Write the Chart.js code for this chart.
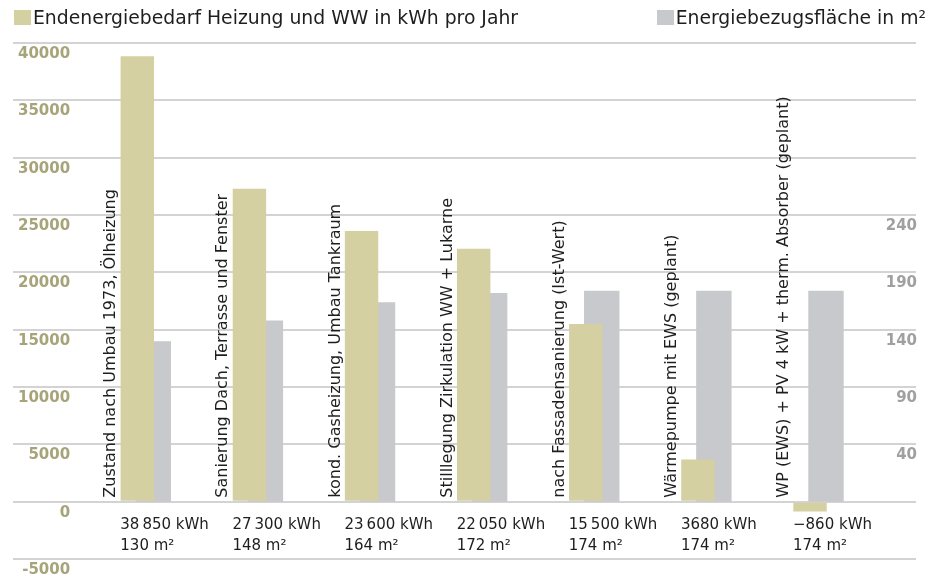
<!DOCTYPE html>
<html>
<head>
<meta charset="utf-8">
<script src="https://cdn.jsdelivr.net/npm/chart.js@4.4.1/dist/chart.umd.min.js"></script>
<style>
html, body { margin: 0; padding: 0; background: #ffffff; }
#wrap { position: relative; width: 935px; height: 581px; }
#c { position: absolute; left: 0; top: 0; }
#legend { position: absolute; left: 0; top: 0; width: 935px; height: 40px; font-family: "DejaVu Sans"; font-size: 18.8px; color: #1e1e1e; }
.item { position: absolute; top: 10px; display: flex; align-items: center; height: 15px; line-height: 15px; white-space: nowrap; }
.box { display: inline-block; width: 17px; height: 15px; margin-right: 2px; }
</style>
</head>
<body>
<div id="wrap">
  <canvas id="c" width="935" height="581"></canvas>
  <div id="legend"></div>
</div>
<script>
// ---- data ----
const categories = [
  "Zustand nach Umbau 1973, Ölheizung",
  "Sanierung Dach, Terrasse und Fenster",
  "kond. Gasheizung, Umbau Tankraum",
  "Stilllegung Zirkulation WW + Lukarne",
  "nach Fassadensanierung (Ist-Wert)",
  "Wärmepumpe mit EWS (geplant)",
  "WP (EWS) + PV 4 kW + therm. Absorber (geplant)"
];
const energyKWh = [38850, 27300, 23600, 22050, 15500, 3680, -860];
const areaM2 = [130, 148, 164, 172, 174, 174, 174];
const leftTicks = [-5000, 0, 5000, 10000, 15000, 20000, 25000, 30000, 35000, 40000];
const rightTicks = [40, 90, 140, 190, 240];
const seriesNames = ["Endenergiebedarf Heizung und WW in kWh pro Jahr", "Energiebezugsfläche in m²"];
const seriesColors = ["#d4d0a2", "#c8c9cc"];

// ---- labels built from data ----
function fmtKWh(n) {
  const a = Math.abs(n);
  let s = String(a);
  if (a >= 10000) s = s.slice(0, s.length - 3) + "\u2009" + s.slice(s.length - 3);
  return (n < 0 ? "\u2212" : "") + s + " kWh";
}
const xLabels = categories.map((_, i) => [fmtKWh(energyKWh[i]), areaM2[i] + " m²"]);

// ---- html legend ----
const legendEl = document.getElementById('legend');
seriesNames.forEach((name, i) => {
  const it = document.createElement('div');
  it.className = 'item';
  if (i === 0) it.style.left = '14px'; else it.style.right = '9px';
  const b = document.createElement('span');
  b.className = 'box';
  b.style.background = seriesColors[i];
  const t = document.createElement('span');
  t.textContent = name;
  it.appendChild(b); it.appendChild(t);
  legendEl.appendChild(it);
});

// ---- rotated category labels ----
const rotatedLabels = {
  id: 'rotatedLabels',
  afterDatasetsDraw(chart) {
    const { ctx, scales } = chart;
    const xs = scales.x, ys = scales.y;
    ctx.save();
    ctx.font = '16px "DejaVu Sans"';
    ctx.fillStyle = '#1e1e1e';
    ctx.textAlign = 'left';
    ctx.textBaseline = 'alphabetic';
    categories.forEach((label, i) => {
      const px = xs.getPixelForValue(i) - 30;
      const py = ys.getPixelForValue(0) - 4;
      ctx.save();
      ctx.translate(px, py);
      ctx.rotate(-Math.PI / 2);
      ctx.fillText(label, 0, 0);
      ctx.restore();
    });
    ctx.restore();
  }
};

const tickFont = { family: 'DejaVu Sans', size: 15, weight: 'bold' };

new Chart(document.getElementById('c'), {
  type: 'bar',
  data: {
    datasets: [
      {
        label: seriesNames[0],
        data: energyKWh.map((v, i) => ({ x: i, y: v })),
        backgroundColor: seriesColors[0],
        borderWidth: 0,
        yAxisID: 'y',
        categoryPercentage: 0.2848,
        barPercentage: 2.094
      },
      {
        label: seriesNames[1],
        data: areaM2.map((v, i) => ({ x: i, y: v })),
        backgroundColor: seriesColors[1],
        borderWidth: 0,
        yAxisID: 'y1',
        base: -10,
        categoryPercentage: 0.2848,
        barPercentage: 2.219
      }
    ]
  },
  options: {
    responsive: false,
    animation: false,
    layout: { padding: { left: 13, right: 17, top: 43, bottom: 22 } },
    plugins: { legend: { display: false }, tooltip: { enabled: false } },
    scales: {
      x: {
        type: 'linear',
        offset: false,
        min: -1.18,
        max: 6.874,
        position: { y: 0 },
        grid: { display: false, drawTicks: false, offset: false },
        border: { display: false },
        afterBuildTicks: (s) => { s.ticks = categories.map((_, i) => ({ value: i })); },
        ticks: {
          autoSkip: false,
          maxRotation: 0,
          minRotation: 0,
          align: 'start',
          labelOffset: -25,
          padding: 13,
          color: '#1e1e1e',
          font: { family: 'DejaVu Sans', size: 15, lineHeight: 1.4 },
          callback: (v, i) => xLabels[i]
        }
      },
      y: {
        type: 'linear',
        position: 'left',
        min: -5000,
        max: 40000,
        afterBuildTicks: (s) => { s.ticks = leftTicks.map(v => ({ value: v })); },
        afterFit: (s) => { s.width = 0; },
        grid: { color: '#d3d3d3', lineWidth: 2, drawTicks: false },
        border: { display: false },
        ticks: {
          mirror: true,
          crossAlign: 'far',
          padding: 5,
          labelOffset: 11,
          color: '#a7a47a',
          font: tickFont,
          callback: (v) => String(v)
        }
      },
      y1: {
        type: 'linear',
        position: 'right',
        min: -60,
        max: 390,
        afterBuildTicks: (s) => { s.ticks = rightTicks.map(v => ({ value: v })); },
        grid: { display: false, drawTicks: false },
        border: { display: false },
        ticks: {
          mirror: true,
          padding: 1,
          labelOffset: 11,
          color: '#a0a0a0',
          font: tickFont,
          callback: (v) => String(v)
        }
      }
    }
  },
  plugins: [rotatedLabels]
});
</script>
</body>
</html>
